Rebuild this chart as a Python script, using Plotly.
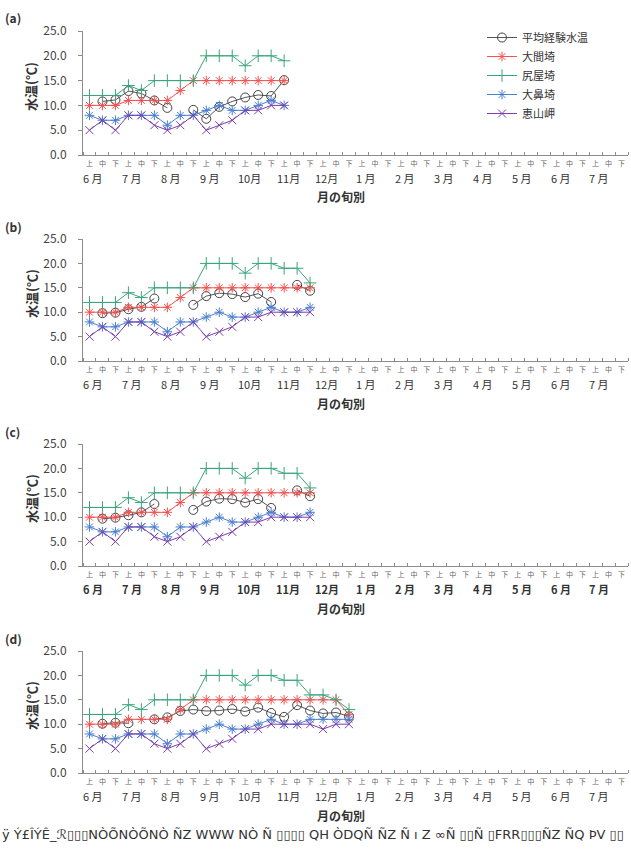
import plotly.graph_objects as go

# ---------------- data ----------------
dekads = ["上", "中", "下"]
months = ["6 月", "7 月", "8 月", "9 月", "10月", "11月", "12月",
          "1 月", "2 月", "3 月", "4 月", "5 月", "6 月", "7 月"]
series_names = ["平均経験水温", "大間埼", "尻屋埼", "大鼻埼", "恵山岬"]

# panel (a)
avg_a = [None, 10.8, 11.1, 12.9, 12.4, 11.0, 9.5, None, 9.1, 7.3, 9.7, 10.8, 11.6, 12.1, 11.9, 15.1]
oma_a = [10, 10, 10, 11, 11, 11, 11, 13, 15, 15, 15, 15, 15, 15, 15, 15]
shiriya_a = [12, 12, 12, 14, 13, 15, 15, 15, 15, 20, 20, 20, 18, 20, 20, 19]
hanahana_a = [8, 7, 7, 8, 8, 8, 6, 8, 8, 9, 10, 9, 9, 10, 11, 10]
esan_a = [5, 7, 5, 8, 8, 6, 5, 6, 8, 5, 6, 7, 9, 9, 10, 10]

# panel (b)
avg_b = [None, 9.8, 9.9, 10.6, 11.1, 12.8, None, None, 11.5, 13.3, 13.9, 13.7, 13.1, 13.8, 12.1, None, 15.6, 14.4]
oma_b = [10, 10, 10, 11, 11, 11, 11, 13, 15, 15, 15, 15, 15, 15, 15, 15, 15, 15]
shiriya_b = [12, 12, 12, 14, 13, 15, 15, 15, 15, 20, 20, 20, 18, 20, 20, 19, 19, 16]
hanahana_b = [8, 7, 7, 8, 8, 8, 6, 8, 8, 9, 10, 9, 9, 10, 11, 10, 10, 11]
esan_b = [5, 7, 5, 8, 8, 6, 5, 6, 8, 5, 6, 7, 9, 9, 10, 10, 10, 10]

# panel (c)
avg_c = [None, 9.7, 9.9, 10.4, 11.0, 12.7, None, None, 11.5, 13.2, 13.8, 13.7, 13.0, 13.7, 11.9, None, 15.5, 14.3]
oma_c = [10, 10, 10, 11, 11, 11, 11, 13, 15, 15, 15, 15, 15, 15, 15, 15, 15, 15]
shiriya_c = [12, 12, 12, 14, 13, 15, 15, 15, 15, 20, 20, 20, 18, 20, 20, 19, 19, 16]
hanahana_c = [8, 7, 7, 8, 8, 8, 6, 8, 8, 9, 10, 9, 9, 10, 11, 10, 10, 11]
esan_c = [5, 7, 5, 8, 8, 6, 5, 6, 8, 5, 6, 7, 9, 9, 10, 10, 10, 10]

# panel (d)
avg_d = [None, 10.1, 10.3, 10.2, None, 11.0, 11.4, 12.7, 13.0, 12.7, 12.8, 13.1, 12.6, 13.4, 12.3, 11.5,
         13.9, 12.8, 12.2, 12.4, 11.6]
oma_d = [10, 10, 10, 11, 11, 11, 11, 13, 15, 15, 15, 15, 15, 15, 15, 15, 15, 15, 15, 15, 12]
shiriya_d = [12, 12, 12, 14, 13, 15, 15, 15, 15, 20, 20, 20, 18, 20, 20, 19, 19, 16, 16, 15, 13]
hanahana_d = [8, 7, 7, 8, 8, 8, 6, 8, 8, 9, 10, 9, 9, 10, 11, 10, 10, 11, 11, 11, 11]
esan_d = [5, 7, 5, 8, 8, 6, 5, 6, 8, 5, 6, 7, 9, 9, 10, 10, 10, 10, 9, 10, 10]

panel_labels = ["(a)", "(b)", "(c)", "(d)"]
y_ticks = [0, 5, 10, 15, 20, 25]
y_ticktext = ["0.0", "5.0", "10.0", "15.0", "20.0", "25.0"]
garbled_note = "ÿ Ý£ÎÝÊ_ℛ▯▯▯NÒÕNÒÕNÒ ÑZ WWW NÒ Ñ ▯▯▯▯ QH ÒDQÑ ÑZ Ñ ı Z ∞Ñ ▯▯Ñ ▯FRR▯▯▯ÑZ ÑQ ÞV ▯▯"

panels = [
    (avg_a, oma_a, shiriya_a, hanahana_a, esan_a),
    (avg_b, oma_b, shiriya_b, hanahana_b, esan_b),
    (avg_c, oma_c, shiriya_c, hanahana_c, esan_c),
    (avg_d, oma_d, shiriya_d, hanahana_d, esan_d),
]

# ---------------- styling ----------------
W, H = 631, 850
FONT = "Noto Sans CJK JP"
styles = [
    dict(color="#555555", symbol="circle-open", size=9, mcolor="#444444"),
    dict(color="#f4514f", symbol="asterisk-open", size=8, mcolor="#f4514f"),
    dict(color="#3aa57a", symbol="cross-thin-open", size=9, mcolor="#3aa57a"),
    dict(color="#4a7fd0", symbol="asterisk-open", size=8, mcolor="#4a7fd0"),
    dict(color="#7b3fae", symbol="x-thin-open", size=8, mcolor="#7b3fae"),
]

# pixel layout of each panel: (top of plot, bottom of plot)
panel_px = [(31, 155), (239, 361), (444, 566), (651, 773)]
x_left, x_right = 83, 628

n_cat = len(months) * 3
cats = list(range(n_cat))
cat_text = [dekads[i % 3] for i in cats]


def py(p):
    return 1 - p / H


def px(p):
    return p / W


fig = go.Figure()
annotations = []
layout = {}

for pi, data in enumerate(panels):
    sfx = "" if pi == 0 else str(pi + 1)
    xa, ya = "x" + sfx, "y" + sfx
    top, bot = panel_px[pi]
    for si, vals in enumerate(data):
        st = styles[si]
        fig.add_trace(go.Scatter(
            x=cats[:len(vals)], y=vals, xaxis=xa, yaxis=ya,
            mode="lines+markers", name=series_names[si],
            showlegend=(pi == 0), legendgroup=series_names[si],
            line=dict(color=st["color"], width=1),
            marker=dict(symbol=st["symbol"], size=st["size"],
                        line=dict(color=st["mcolor"], width=1), color=st["mcolor"]),
            connectgaps=False,
        ))
    bold = (pi == 2)
    layout["xaxis" + sfx] = dict(
        domain=[px(x_left), px(x_right)], anchor=ya, range=[-0.5, n_cat - 0.5],
        tickmode="array", tickvals=cats, ticktext=cat_text, ticks="",
        tickfont=dict(family=FONT, size=7, color="#666666"),
        ticklabelstandoff=2,
        showline=True, linecolor="#8c8c8c", linewidth=1, showgrid=False, zeroline=False,
        minor=dict(tickmode="array", tickvals=[c - 0.5 for c in cats] + [n_cat - 0.5],
                   ticks="inside", ticklen=3, tickcolor="#8c8c8c", showgrid=False),
        automargin=False, fixedrange=True,
    )
    layout["yaxis" + sfx] = dict(
        domain=[py(bot), py(top)], anchor=xa, range=[0, 25],
        tickmode="array", tickvals=y_ticks, ticktext=y_ticktext,
        ticks="outside", ticklen=4, tickcolor="#8c8c8c",
        ticklabelstandoff=9,
        tickfont=dict(family=FONT, size=12, color="#444444"),
        showline=True, linecolor="#8c8c8c", linewidth=1, showgrid=False, zeroline=False,
        automargin=False, fixedrange=True,
    )
    # month labels
    for m, lab in enumerate(months):
        txt = "<b>" + lab + "</b>" if bold else lab
        annotations.append(dict(
            x=3 * m + 0.3, y=py(bot + 23), xref=xa, yref="paper", text=txt,
            showarrow=False, xanchor="center", yanchor="middle",
            font=dict(family=FONT, size=11, color="#333333")))
    # x title
    annotations.append(dict(
        x=px(341), y=py(bot + 42), xref="paper", yref="paper", text="<b>月の旬別</b>",
        showarrow=False, xanchor="center", yanchor="middle",
        font=dict(family=FONT, size=12, color="#333333")))
    # y title
    annotations.append(dict(
        x=px(31), y=py((top + bot) / 2 - 6), xref="paper", yref="paper", text="<b>水温(℃)</b>",
        showarrow=False, textangle=-90, xanchor="center", yanchor="middle",
        font=dict(family=FONT, size=13, color="#333333")))
    # panel label
    annotations.append(dict(
        x=px(3), y=py(top - 13), xref="paper", yref="paper", text="<b>" + panel_labels[pi] + "</b>",
        showarrow=False, xanchor="left", yanchor="middle",
        font=dict(family=FONT, size=12, color="#333333")))

annotations.append(dict(
    x=0, y=py(834), xref="paper", yref="paper", text=garbled_note,
    showarrow=False, xanchor="left", yanchor="middle",
    font=dict(family="DejaVu Sans", size=13, color="#333333")))

fig.update_layout(
    template="none",
    width=W, height=H, margin=dict(l=0, r=0, t=0, b=0, autoexpand=False),
    paper_bgcolor="white", plot_bgcolor="white",
    font=dict(family=FONT, color="#333333"),
    annotations=annotations,
    legend=dict(x=px(482), y=py(23), xanchor="left", yanchor="top",
                font=dict(family=FONT, size=11, color="#333333"),
                bgcolor="rgba(0,0,0,0)", tracegroupgap=0, itemwidth=30),
    **layout,
)

fig.write_html("out.html")
